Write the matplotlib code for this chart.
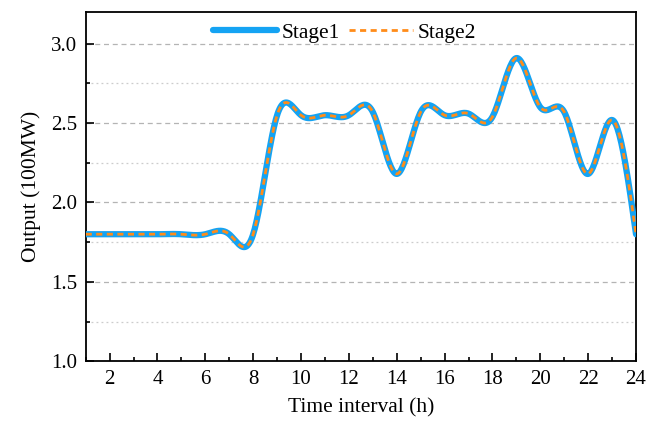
import numpy as np
import matplotlib
matplotlib.use("Agg")
import matplotlib.pyplot as plt
from matplotlib.ticker import MultipleLocator

# hourly output (100MW)
hours = np.arange(1, 25)
stage1 = [1.80, 1.80, 1.80, 1.80, 1.80, 1.80, 1.80, 1.80,
          2.55, 2.55, 2.55, 2.55, 2.57, 2.18, 2.57, 2.55,
          2.56, 2.54, 2.91, 2.60, 2.57, 2.18, 2.52, 1.80]
stage2 = list(stage1)


def natural_spline(x, y, n=600):
    # plain natural cubic spline, like the smoothed line in Origin
    x = np.asarray(x, float)
    y = np.asarray(y, float)
    k = len(x)
    h = np.diff(x)
    A = np.zeros((k, k))
    b = np.zeros(k)
    A[0, 0] = A[-1, -1] = 1
    for i in range(1, k - 1):
        A[i, i - 1] = h[i - 1]
        A[i, i] = 2 * (h[i - 1] + h[i])
        A[i, i + 1] = h[i]
        b[i] = 6 * ((y[i + 1] - y[i]) / h[i] - (y[i] - y[i - 1]) / h[i - 1])
    M = np.linalg.solve(A, b)
    xs = np.linspace(x[0], x[-1], n)
    idx = np.clip(np.searchsorted(x, xs) - 1, 0, k - 2)
    x0, x1 = x[idx], x[idx + 1]
    hh = x1 - x0
    t0, t1 = x1 - xs, xs - x0
    ys = (M[idx] * t0 ** 3 + M[idx + 1] * t1 ** 3) / (6 * hh) \
        + (y[idx] / hh - M[idx] * hh / 6) * t0 \
        + (y[idx + 1] / hh - M[idx + 1] * hh / 6) * t1
    return xs, ys


plt.rcParams['font.family'] = ['Liberation Serif', 'DejaVu Serif']
plt.rcParams['font.size'] = 14

fig = plt.figure(figsize=(6.49, 4.30), dpi=100)
ax = fig.add_axes([0.132, 0.160, 0.848, 0.812])

x1, y1 = natural_spline(hours, stage1)
x2, y2 = natural_spline(hours, stage2)
ax.plot(x1, y1, color='#14a3f3', lw=4.5, solid_capstyle='round', label='Stage1', zorder=3)
ax.plot(x2, y2, color='#ff8c1a', lw=2, ls=(0, (2.2, 1.6)), label='Stage2', zorder=4)

ax.set_xlim(1, 24)
ax.set_ylim(1.0, 3.2)
ax.xaxis.set_major_locator(MultipleLocator(2))
ax.xaxis.set_minor_locator(MultipleLocator(1))
ax.yaxis.set_major_locator(MultipleLocator(0.5))
ax.yaxis.set_minor_locator(MultipleLocator(0.25))
ax.yaxis.set_major_formatter(matplotlib.ticker.FormatStrFormatter('%.1f'))

ax.tick_params(which='both', direction='in', top=False, right=False, width=1.2)
ax.tick_params(which='major', length=6, labelsize=15, pad=6)
ax.tick_params(which='minor', length=3)
for s in ax.spines.values():
    s.set_linewidth(1.3)

ax.grid(which='major', axis='y', ls=(0, (4, 3)), color='#b4b4b4', lw=0.9)
ax.grid(which='minor', axis='y', ls=(0, (1.5, 2.5)), color='#cccccc', lw=0.9)
ax.set_axisbelow(True)

ax.set_xlabel('Time interval (h)', fontsize=15.5, labelpad=7)
ax.set_ylabel('Output (100MW)', fontsize=15.5, labelpad=7)

ax.legend(loc='upper center', ncol=2, frameon=False, fontsize=15.5,
          handlelength=3.0, columnspacing=0.4, handletextpad=0.2,
          borderaxespad=0.1, bbox_to_anchor=(0.47, 1.0))

fig.savefig('out.png', dpi=100)
